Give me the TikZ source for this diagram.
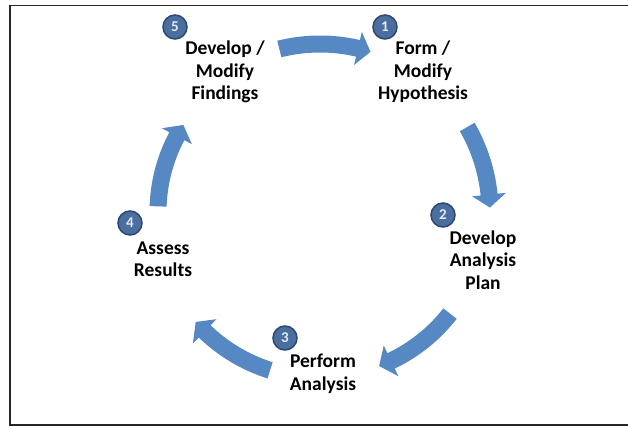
\documentclass[tikz,border=0pt]{standalone}
\usepackage{fontspec}
\setmainfont{Carlito}
\definecolor{arrowblue}{RGB}{86,136,196}
\definecolor{badgefill}{RGB}{74,110,160}
\definecolor{badgeedge}{RGB}{44,72,112}
\definecolor{badgetext}{RGB}{225,234,245}
\tikzset{
  lbl/.style={align=center,font=\bfseries\fontsize{19.5}{22.5}\selectfont,text=black,inner sep=0pt},
  badge/.style={circle,fill=badgefill,draw=badgeedge,line width=1.5pt,minimum size=24pt,inner sep=0pt,text=badgetext,font=\bfseries\fontsize{15}{15}\selectfont},
  frameline/.style={draw=black!85,line width=1.8pt}
}
% curved block arrow: #1 start angle, #2 tip angle, #3 radius
\newcommand\cyclearrow[3]{%
  \pgfmathsetmacro\cax{320}\pgfmathsetmacro\cay{212}%
  \pgfmathsetmacro\hd{13/#3*57.2958}%
  \pgfmathsetmacro\hb{#2-\hd}%
  \pgfmathsetmacro\ro{#3+8.5}\pgfmathsetmacro\ri{#3-8.5}%
  \pgfmathsetmacro\hro{#3+17}\pgfmathsetmacro\hri{#3-17}%
  \fill[arrowblue]
    plot[domain=#1:\hb,samples=30] ({\cax+\ro*cos(\x)},{\cay+\ro*sin(\x)})
    -- ({\cax+\hro*cos(\hb)},{\cay+\hro*sin(\hb)})
    -- ({\cax+#3*cos(#2)},{\cay+#3*sin(#2)})
    -- ({\cax+\hri*cos(\hb)},{\cay+\hri*sin(\hb)})
    -- plot[domain=\hb:#1,samples=30] ({\cax+\ri*cos(\x)},{\cay+\ri*sin(\x)})
    -- cycle;%
}
\begin{document}
\begin{tikzpicture}[x=1pt,y=-1pt]
\useasboundingbox (0,0) rectangle (628,428);
\fill[white] (0,0) rectangle (628,428);
\draw[frameline] (628,5.5) -- (10,5.5) -- (10,425) -- (628,425);

% arrows
\cyclearrow{256}{287.5}{168}
\cyclearrow{330}{358.5}{170}
\cyclearrow{38}{69}{165}
\cyclearrow{107.5}{138.5}{166}
\cyclearrow{182}{212.5}{162}

% labels
\node[lbl] (t5) at (225,72) {Develop /\\Modify\\Findings};
\node[lbl] (t1) at (423,72) {Form /\\Modify\\Hypothesis};
\node[lbl] (t2) at (483,260) {Develop\\Analysis\\Plan};
\node[lbl] (t3) at (323,374) {Perform\\Analysis};
\node[lbl] (t4) at (163,259) {Assess\\Results};

% badges
\node[badge] (b5) at (175,27) {5};
\node[badge] (b1) at (385,27) {1};
\node[badge] (b2) at (443,215) {2};
\node[badge] (b3) at (285,338) {3};
\node[badge] (b4) at (130,223) {4};
\end{tikzpicture}
\end{document}
